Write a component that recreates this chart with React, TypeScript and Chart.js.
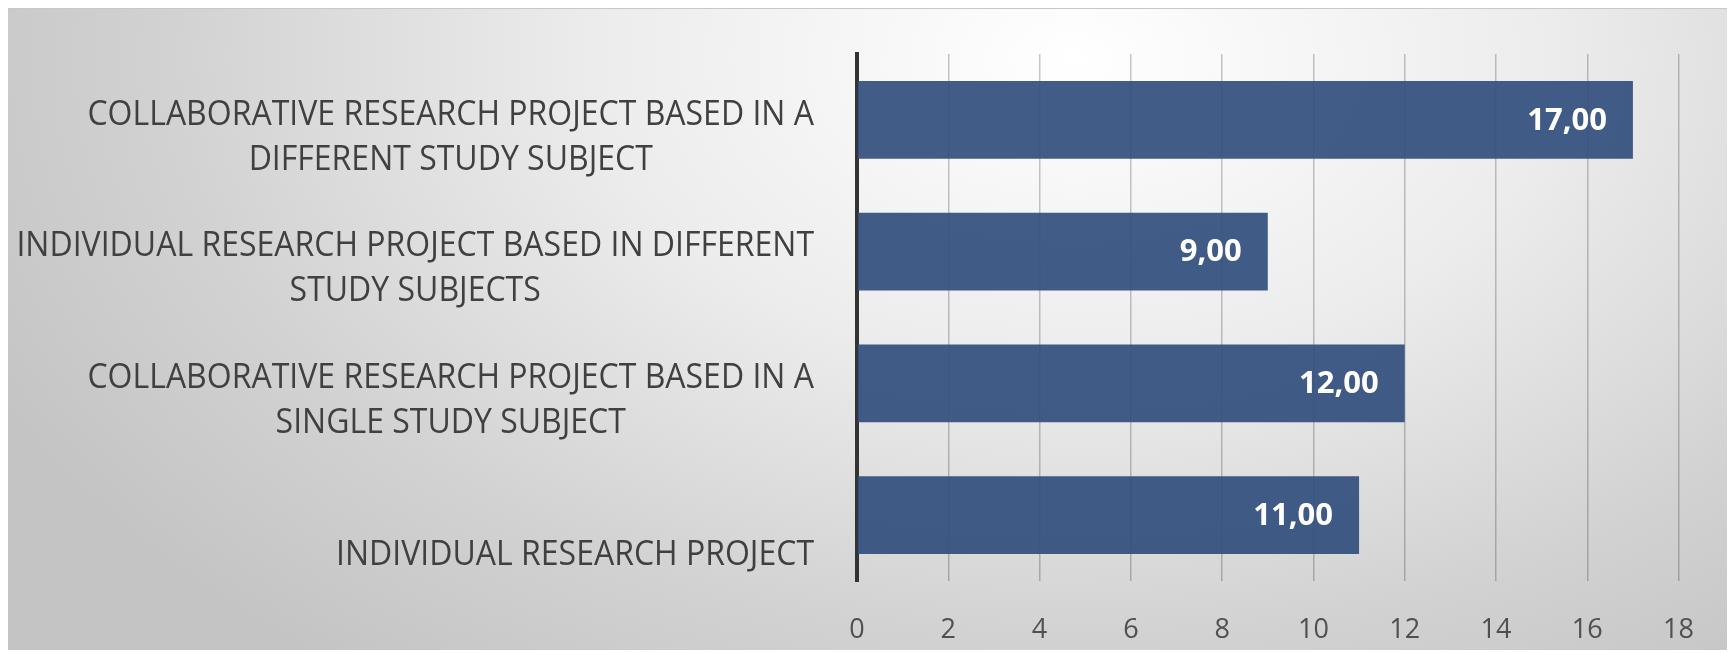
import React, { useEffect, useRef } from "react";
import { Chart, registerables } from "chart.js";

Chart.register(...registerables);

const categories: string[][] = [
  ["COLLABORATIVE RESEARCH PROJECT BASED IN A", "DIFFERENT STUDY SUBJECT"],
  ["INDIVIDUAL RESEARCH PROJECT BASED IN DIFFERENT", "STUDY SUBJECTS"],
  ["COLLABORATIVE RESEARCH PROJECT BASED IN A", "SINGLE STUDY SUBJECT"],
  ["INDIVIDUAL RESEARCH PROJECT"],
];
const values: number[] = [17, 9, 12, 11];
const xMin = 0;
const xMax = 18;
const xStep = 2;

const W = 1719;
const H = 642;

const valueLabelPlugin = {
  id: "valueLabels",
  afterDatasetsDraw(chart: any) {
    const ctx = chart.ctx;
    const meta = chart.getDatasetMeta(0);
    ctx.save();
    ctx.font = "bold 31px 'Open Sans'";
    ctx.fillStyle = "#ffffff";
    ctx.textAlign = "right";
    ctx.textBaseline = "middle";
    meta.data.forEach((bar: any, i: number) => {
      const txt = values[i].toFixed(2).replace(".", ",");
      ctx.fillText(txt, bar.x - 26, bar.y + 1);
    });
    ctx.restore();
  },
};

const catLabelPlugin = {
  id: "catLabels",
  afterDraw(chart: any) {
    const ctx = chart.ctx;
    const y = chart.scales.y;
    ctx.save();
    ctx.font = "32px 'Open Sans'";
    ctx.fillStyle = "#404040";
    ctx.textAlign = "center";
    ctx.textBaseline = "middle";
    const right = 806;
    const lineGap = 45;
    const sy = 1.07;
    categories.forEach((lines, i) => {
      const cy = y.getPixelForValue(i);
      const maxW = Math.max(...lines.map((l) => ctx.measureText(l).width));
      const cx = right - maxW / 2;
      lines.forEach((l, j) => {
        const ly = cy + 40 - (lines.length - 1 - j) * lineGap;
        ctx.save();
        ctx.translate(cx, ly);
        ctx.scale(1, sy);
        ctx.fillText(l, 0, 0);
        ctx.restore();
      });
    });
    ctx.restore();
  },
};

export default function App() {
  const ref = useRef<HTMLCanvasElement | null>(null);
  useEffect(() => {
    if (!ref.current) return;
    const chart = new Chart(ref.current, {
      type: "bar",
      data: {
        labels: categories.map((c) => c.join(" ")),
        datasets: [
          {
            data: values,
            backgroundColor: "rgba(49,78,125,0.92)",
            borderWidth: 0,
            barPercentage: 0.59,
            categoryPercentage: 1,
          },
        ],
      },
      options: {
        indexAxis: "y",
        responsive: false,
        animation: false,
        layout: { padding: { top: 46, right: 48, left: 0, bottom: 0 } },
        plugins: { legend: { display: false }, tooltip: { enabled: false } },
        scales: {
          x: {
            min: xMin,
            max: xMax,
            ticks: {
              stepSize: xStep,
              color: "#505050",
              font: { family: "'Open Sans'", size: 27 },
              padding: 33,
            },
            grid: {
              color: "rgba(0,0,0,0.22)",
              lineWidth: 1.5,
              drawTicks: false,
            },
            border: { display: false },
            afterFit(scale: any) {
              scale.height = 69;
            },
          },
          y: {
            ticks: { display: false },
            grid: { display: false },
            border: { display: true, color: "#333333", width: 4 },
            afterFit(scale: any) {
              scale.width = 849;
            },
          },
        },
      },
      plugins: [valueLabelPlugin, catLabelPlugin],
    } as any);
    return () => chart.destroy();
  }, []);
  return (
    <div
      style={{
        width: W,
        height: H,
        background:
          "radial-gradient(ellipse 70% 120% at 62% 8%, #ffffff 0%, #ececec 40%, #d2d2d2 75%, #c4c4c4 100%)",
        boxShadow: "inset 0 1px 0 #c8c8c8",
      }}
    >
      <canvas ref={ref} width={W} height={H} style={{ width: W, height: H, display: "block" }} />
    </div>
  );
}
